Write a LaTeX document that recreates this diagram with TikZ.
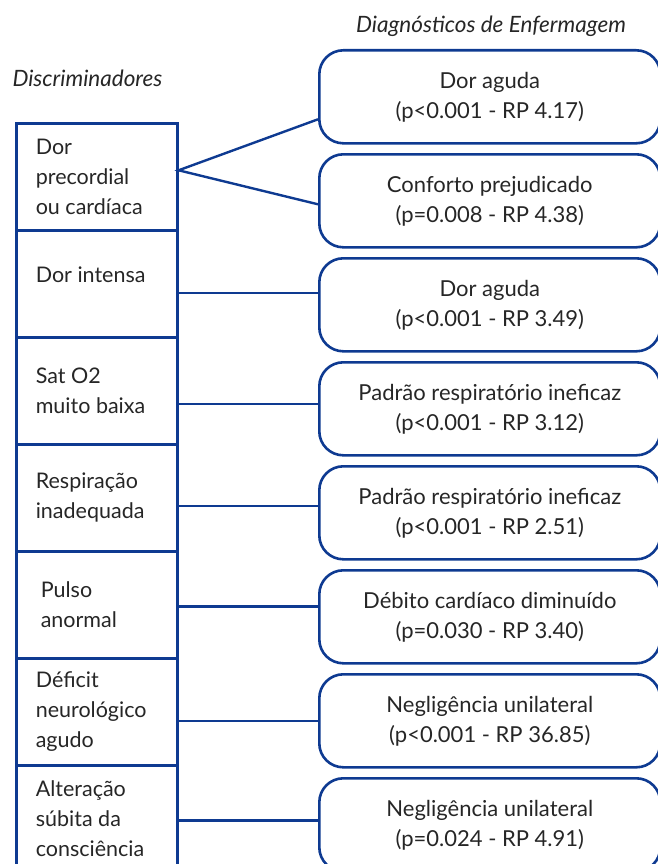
\documentclass[tikz,border=0pt]{standalone}
\usepackage{fontspec}
\setmainfont{Lato}
\usepackage{xcolor}
\definecolor{azul}{RGB}{14,58,145}

\begin{document}
\begin{tikzpicture}[x=1pt,y=-1pt,
    disc/.style={draw=azul, line width=2.6pt, anchor=north west,
      minimum width=161pt, minimum height=107pt, text width=122pt,
      inner xsep=19.5pt, align=flush left, text=black!85,
      font=\fontsize{21.5}{30}\selectfont},
    diag/.style={draw=azul, line width=2.6pt, rounded corners=24pt,
      anchor=north west, minimum width=341pt, minimum height=93pt,
      align=center, text=black!85, font=\fontsize{22}{30}\selectfont},
    titulo/.style={font=\itshape\fontsize{22.5}{26}\selectfont, text=black!85},
    liga/.style={draw=azul, line width=2.4pt}]
  \useasboundingbox (0,0) rectangle (657,864);

  \node[titulo, anchor=west] (tdisc) at (9,78) {Discriminadores};
  \node[titulo] (tdiag) at (491,26) {Diagnósticos de Enfermagem};

  \node[disc] (L1) at (15,122) {Dor\\precordial\\ou cardíaca};
  \node[disc] (L2) at (15,229) {Dor intensa\\[-12pt]\mbox{}};
  \node[disc] (L3) at (15,336) {Sat O2\\muito baixa};
  \node[disc] (L4) at (15,443) {Respiração\\inadequada};
  \node[disc] (L5) at (15,550) {\hspace*{5pt}Pulso\\\hspace*{5pt}anormal};
  \node[disc] (L6) at (15,657) {Déficit\\neurológico\\agudo};
  \node[disc] (L7) at (15,764) {Alteração\\súbita da\\consciência};

  \node[diag] (R1) at (318,49) {Dor aguda\\(p<0.001 - RP 4.17)};
  \node[diag] (R2) at (318,153) {Conforto prejudicado\\(p=0.008 - RP 4.38)};
  \node[diag] (R3) at (318,257) {Dor aguda\\(p<0.001 - RP 3.49)};
  \node[diag] (R4) at (318,361) {Padrão respiratório ineficaz\\(p<0.001 - RP 3.12)};
  \node[diag] (R5) at (318,465) {Padrão respiratório ineficaz\\(p<0.001 - RP 2.51)};
  \node[diag] (R6) at (318,569) {Débito cardíaco diminuído\\(p=0.030 - RP 3.40)};
  \node[diag] (R7) at (318,673) {Negligência unilateral\\(p<0.001 - RP 36.85)};
  \node[diag] (R8) at (318,777) {Negligência unilateral\\(p=0.024 - RP 4.91)};

  % pontos de chegada nos diagnosticos
  \coordinate (r3) at ([yshift=12pt]R3.west);
  \coordinate (r4) at ([yshift=5pt]R4.west);
  \coordinate (r5) at ([yshift=7pt]R5.west);
  \coordinate (r6) at ([yshift=10.5pt]R6.west);
  \coordinate (r7) at (R7.west);
  \coordinate (r8) at ([yshift=4.5pt]R8.west);

  \draw[liga] ([yshift=-22.5pt]R1.west) -- ([yshift=6.5pt]L1.east)
    -- ([yshift=-3.5pt]R2.west);
  \draw[liga] (L2.east |- r3) -- (r3);
  \draw[liga] (L3.east |- r4) -- (r4);
  \draw[liga] (L4.east |- r5) -- (r5);
  \draw[liga] (L5.east |- r6) -- (r6);
  \draw[liga] (L6.east |- r7) -- (r7);
  \draw[liga] (L7.east |- r8) -- (r8);
\end{tikzpicture}
\end{document}
